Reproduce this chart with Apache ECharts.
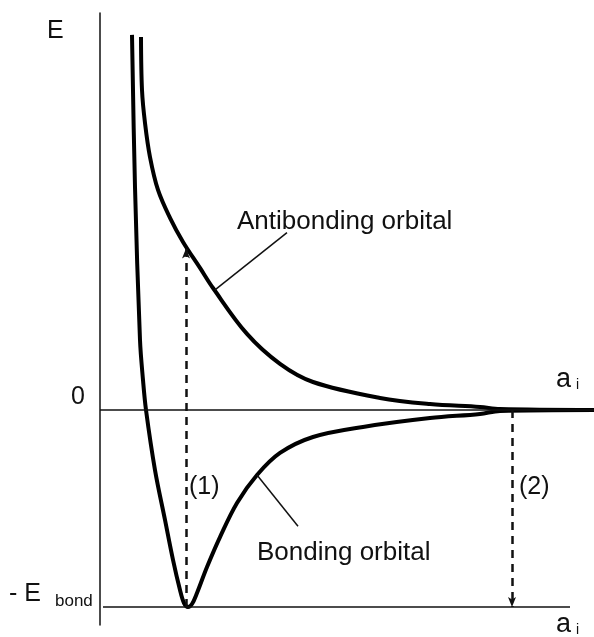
<!DOCTYPE html>
<html>
<head>
<meta charset="utf-8">
<title>Bonding / antibonding</title>
<style>
  html, body { margin: 0; padding: 0; background: #fff; }
  #chart { width: 594px; height: 637px; }
</style>
</head>
<body>
<div id="chart"></div>
<script src="https://cdn.jsdelivr.net/npm/echarts@6/dist/echarts.min.js"></script>
<script>
// distance a_i (arbitrary units) and energy E (units of E_bond)
var bondingX = [0.32, 0.35, 0.40, 0.43, 0.46, 0.55, 0.65, 0.73, 0.80, 0.84, 0.88, 0.92, 0.97, 1.07, 1.20, 1.37, 1.57, 1.80, 2.13, 2.63, 3.30, 3.80, 4.00, 4.94];
var bondingE = [1.904, 1.132, 0.355, 0.152, 0.0, -0.305, -0.558, -0.761, -0.914, -0.980, -1.0, -0.985, -0.929, -0.797, -0.645, -0.472, -0.330, -0.218, -0.137, -0.086, -0.041, -0.020, -0.005, 0];
var antiX = [0.41, 0.42, 0.45, 0.50, 0.58, 0.70, 0.83, 1.00, 1.13, 1.47, 1.80, 2.13, 2.80, 3.30, 3.80, 4.00, 4.94];
var antiE = [1.893, 1.624, 1.457, 1.284, 1.117, 0.975, 0.853, 0.721, 0.619, 0.386, 0.234, 0.142, 0.061, 0.030, 0.015, 0.005, 0];
var xMax = 4.94;
var yMin = -1.0914, yMax = 2.015;
var arrow1 = [0.86, -1, 0.82];   // x, from, to
var arrow2 = [4.12, 0, -1];

function pairs(xs, ys) {
  var out = [];
  for (var i = 0; i < xs.length; i++) out.push([xs[i], ys[i]]);
  return out;
}

var chart = echarts.init(document.getElementById('chart'));

function label(text, left, top, size) {
  return {
    type: 'text', left: left, top: top,
    style: { text: text, fontSize: size, fontFamily: 'Liberation Sans', fill: '#111' }
  };
}

var option = {
  backgroundColor: '#fff',
  animation: false,
  grid: { left: 100, right: 0, top: 13, bottom: 12 },
  xAxis: {
    type: 'value', min: 0, max: xMax,
    axisLine: { show: false }, axisTick: { show: false },
    axisLabel: { show: false }, splitLine: { show: false }
  },
  yAxis: {
    type: 'value', min: yMin, max: yMax,
    axisLine: { show: true, onZero: false, lineStyle: { color: '#111', width: 1.5 } },
    axisTick: { show: false }, axisLabel: { show: false }, splitLine: { show: false }
  },
  series: [
    {
      name: 'Bonding orbital', type: 'line', data: pairs(bondingX, bondingE),
      smooth: 0.35, symbol: 'none',
      lineStyle: { color: '#000', width: 4 }, z: 3,
      markLine: {
        silent: true, symbol: 'none', label: { show: false },
        lineStyle: { color: '#111', width: 1.5, type: 'solid' },
        data: [
          [{ coord: [0, 0] }, { coord: [xMax, 0] }],
          [{ coord: [0.03, -1] }, { coord: [4.70, -1] }],
          [{ coord: [1.57, -0.33] }, { coord: [1.98, -0.59] }]
        ]
      }
    },
    {
      name: 'Antibonding orbital', type: 'line', data: pairs(antiX, antiE),
      smooth: 0.35, symbol: 'none',
      lineStyle: { color: '#000', width: 4 }, z: 3,
      markLine: {
        silent: true, symbol: 'none', label: { show: false },
        lineStyle: { color: '#111', width: 1.5, type: 'solid' },
        data: [
          [{ coord: [1.15, 0.61] }, { coord: [1.87, 0.90] }]
        ]
      }
    },
    {
      name: 'arrows', type: 'line', data: [], symbol: 'none',
      markLine: {
        silent: true, symbol: ['none', 'arrow'], symbolSize: [6, 10],
        label: { show: false },
        lineStyle: { color: '#111', width: 2.5, type: [8, 6] },
        data: [
          [{ coord: [arrow1[0], arrow1[1]] }, { coord: [arrow1[0], arrow1[2]] }],
          [{ coord: [arrow2[0], arrow2[1]] }, { coord: [arrow2[0], arrow2[2]] }]
        ]
      }
    }
  ],
  graphic: [
    label('E', 47, 19, 25),
    label('0', 71, 385, 25),
    label('- E', 9, 582, 25),
    label('bond', 55, 593, 17),
    label('a', 556, 366, 27),
    label('i', 576, 378, 14),
    label('a', 556, 611, 27),
    label('i', 576, 623, 14),
    label('Antibonding orbital', 237, 209, 26),
    label('Bonding orbital', 257, 540, 26),
    label('(1)', 189, 475, 25),
    label('(2)', 519, 475, 25)
  ]
};
chart.setOption(option);
</script>
</body>
</html>
